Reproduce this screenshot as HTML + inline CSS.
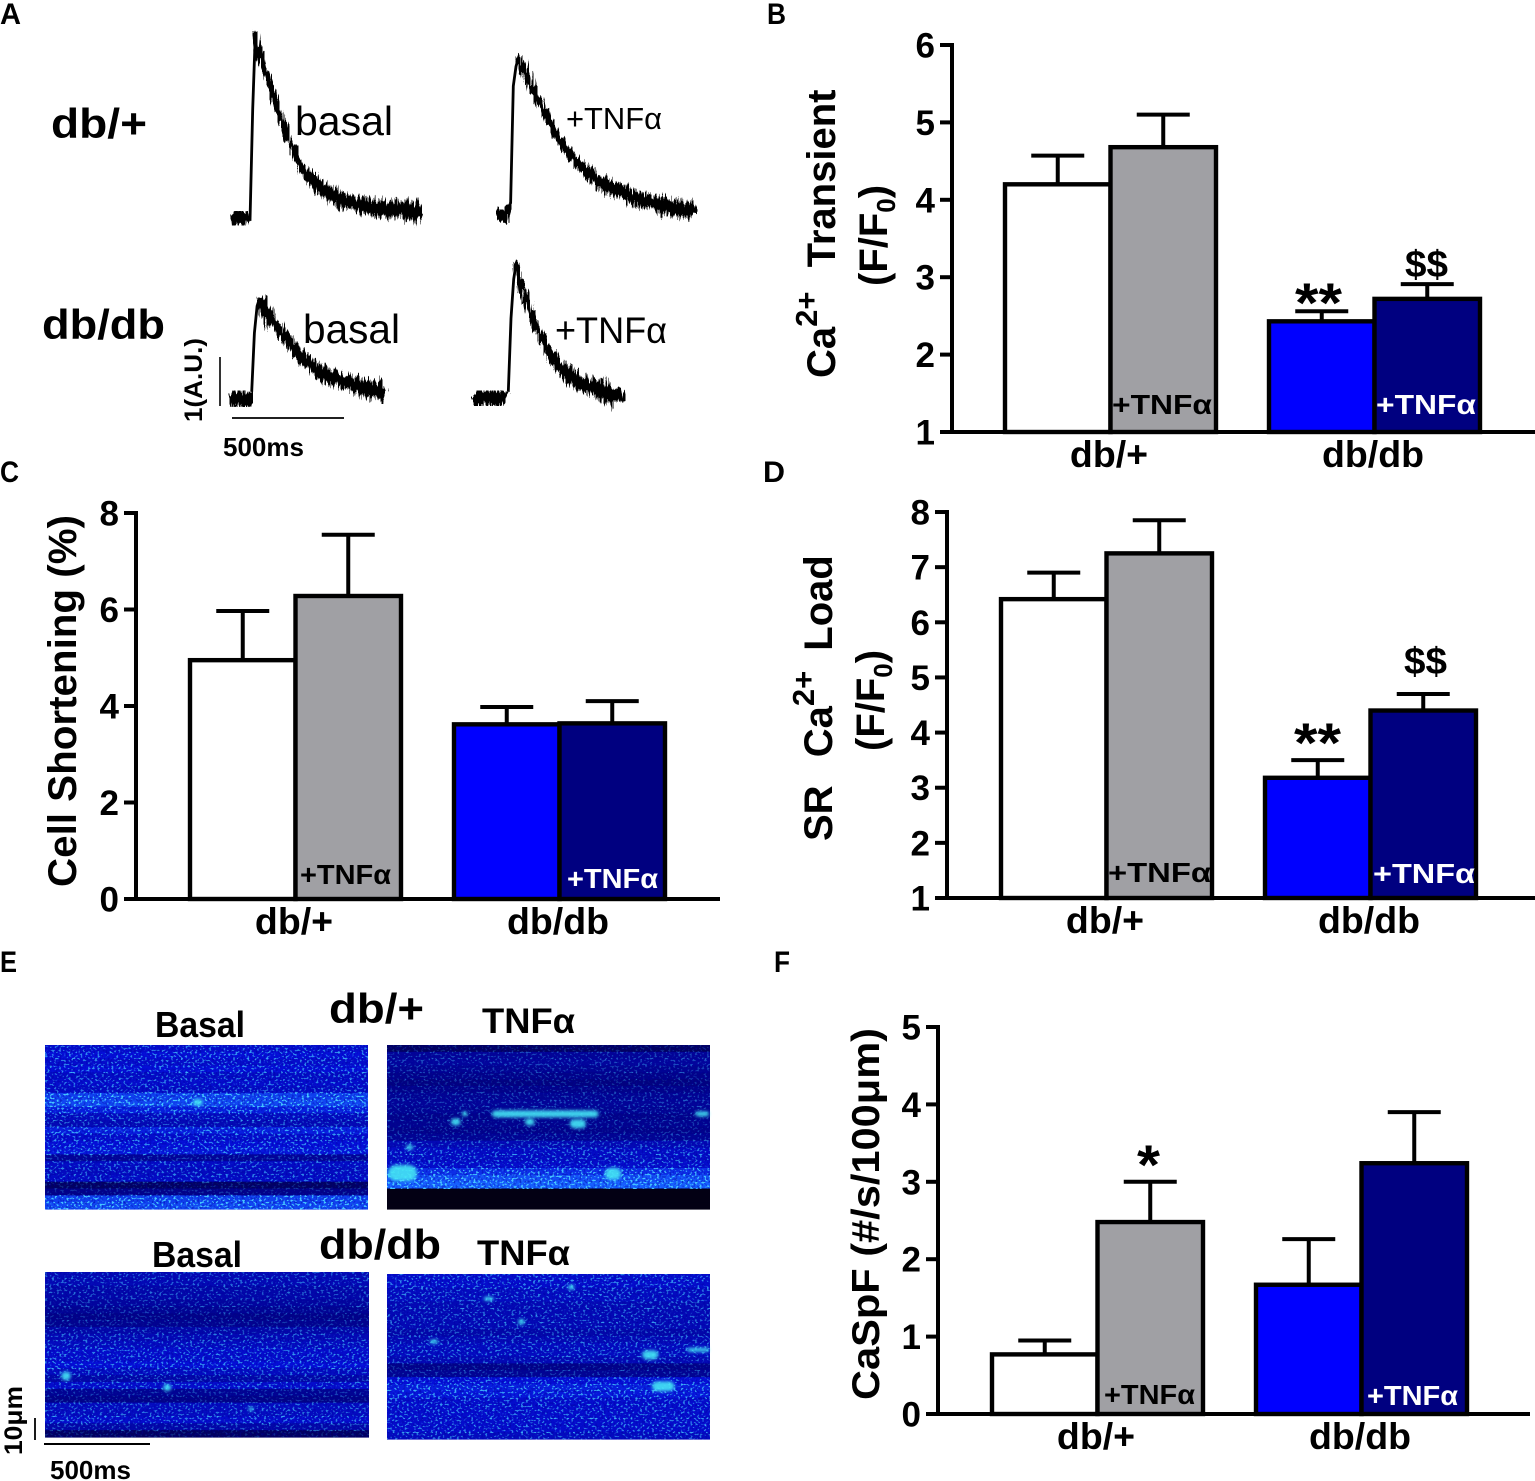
<!DOCTYPE html>
<html lang="en">
<head>
<meta charset="utf-8">
<title>Panels A-F</title>
<style>
html,body{margin:0;padding:0;background:#fff;}
svg{display:block;}
text{font-family:"Liberation Sans",Arial,sans-serif;fill:#000;}
.b{font-weight:700;}
</style>
</head>
<body>
<svg id="fig" xmlns="http://www.w3.org/2000/svg" width="1535" height="1481" viewBox="0 0 1535 1481">
<defs>
<filter id="speckle" x="0" y="0" width="1" height="1" color-interpolation-filters="sRGB">
<feTurbulence type="fractalNoise" baseFrequency="0.42 0.5" numOctaves="1" seed="7"/>
<feColorMatrix type="matrix" values="0 0 0 0 0.27  0 0 0 0 0.78  0 0 0 0 1  8 0 0 0 -4.4"/>
</filter>
<filter id="speckleDark" x="0" y="0" width="1" height="1" color-interpolation-filters="sRGB">
<feTurbulence type="fractalNoise" baseFrequency="0.5 0.42" numOctaves="1" seed="21"/>
<feColorMatrix type="matrix" values="0 0 0 0 0  0 0 0 0 0  0 0 0 0 0.62  0 6 0 0 -3"/>
</filter>
<filter id="soft" x="-60%" y="-120%" width="220%" height="340%"><feGaussianBlur stdDeviation="1.6"/></filter>
<filter id="traceNoise" x="-5%" y="-8%" width="110%" height="116%" color-interpolation-filters="sRGB">
<feTurbulence type="fractalNoise" baseFrequency="0.5 0.03" numOctaves="2" seed="4" result="n"/>
<feDisplacementMap in="SourceGraphic" in2="n" scale="11" xChannelSelector="A" yChannelSelector="R"/>
</filter>
</defs>

<g id="traces"></g>
<g id="scans"></g>
<g id="charts"></g>

<!-- panel letters -->
<text class="b" x="0" y="24" font-size="30" textLength="21" lengthAdjust="spacingAndGlyphs">A</text>
<text class="b" x="767" y="24" font-size="30" textLength="19" lengthAdjust="spacingAndGlyphs">B</text>
<text class="b" x="0" y="482" font-size="30" textLength="19" lengthAdjust="spacingAndGlyphs">C</text>
<text class="b" x="763" y="482" font-size="30" textLength="22" lengthAdjust="spacingAndGlyphs">D</text>
<text class="b" x="0" y="972" font-size="30" textLength="17" lengthAdjust="spacingAndGlyphs">E</text>
<text class="b" x="774" y="972" font-size="30" textLength="16" lengthAdjust="spacingAndGlyphs">F</text>

<!-- panel A text -->
<text class="b" x="51" y="138" font-size="42" textLength="96" lengthAdjust="spacingAndGlyphs">db/+</text>
<text class="b" x="42" y="339" font-size="42" textLength="123" lengthAdjust="spacingAndGlyphs">db/db</text>
<text x="295" y="135" font-size="41" textLength="98" lengthAdjust="spacingAndGlyphs">basal</text>
<text x="566" y="129" font-size="31" textLength="96" lengthAdjust="spacingAndGlyphs">+TNFα</text>
<text x="303" y="343" font-size="41" textLength="97" lengthAdjust="spacingAndGlyphs">basal</text>
<text x="555" y="343" font-size="37" textLength="112" lengthAdjust="spacingAndGlyphs">+TNFα</text>
<text class="b" transform="translate(202,422) rotate(-90)" font-size="25" textLength="84" lengthAdjust="spacingAndGlyphs">1(A.U.)</text>
<line x1="220" y1="357" x2="220" y2="406" stroke="#000" stroke-width="1.6"/>
<line x1="232" y1="418" x2="344" y2="418" stroke="#000" stroke-width="1.8"/>
<text class="b" x="223" y="456" font-size="26" textLength="81" lengthAdjust="spacingAndGlyphs">500ms</text>

<!-- panel E text -->
<text class="b" x="155" y="1037" font-size="36" textLength="90" lengthAdjust="spacingAndGlyphs">Basal</text>
<text class="b" x="329" y="1023" font-size="42" textLength="95" lengthAdjust="spacingAndGlyphs">db/+</text>
<text class="b" x="482" y="1033" font-size="35" textLength="93" lengthAdjust="spacingAndGlyphs">TNFα</text>
<text class="b" x="152" y="1267" font-size="36" textLength="90" lengthAdjust="spacingAndGlyphs">Basal</text>
<text class="b" x="319" y="1259" font-size="42" textLength="122" lengthAdjust="spacingAndGlyphs">db/db</text>
<text class="b" x="477" y="1265" font-size="35" textLength="93" lengthAdjust="spacingAndGlyphs">TNFα</text>
<text class="b" transform="translate(22,1455) rotate(-90)" font-size="25" textLength="69" lengthAdjust="spacingAndGlyphs">10μm</text>
<line x1="35" y1="1418" x2="35" y2="1440" stroke="#000" stroke-width="1.8"/>
<line x1="44" y1="1444" x2="150" y2="1444" stroke="#000" stroke-width="2"/>
<text class="b" x="50" y="1479" font-size="26" textLength="81" lengthAdjust="spacingAndGlyphs">500ms</text>

<!-- y axis titles -->
<text class="b" transform="translate(835,378) rotate(-90)" font-size="40">Ca<tspan font-size="31" dy="-18">2+</tspan><tspan dy="18" dx="13"> Transient</tspan></text>
<text class="b" transform="translate(887,286) rotate(-90)" font-size="40">(F/F<tspan font-size="26" dy="8">0</tspan><tspan dy="-8">)</tspan></text>
<text class="b" transform="translate(76,887) rotate(-90)" font-size="40" textLength="372" lengthAdjust="spacingAndGlyphs">Cell Shortening (%)</text>
<text class="b" transform="translate(832,841) rotate(-90)" font-size="40">SR<tspan dx="17"> Ca</tspan><tspan font-size="31" dy="-18">2+</tspan><tspan dy="18" dx="9"> Load</tspan></text>
<text class="b" transform="translate(884,751) rotate(-90)" font-size="40">(F/F<tspan font-size="26" dy="8">0</tspan><tspan dy="-8">)</tspan></text>
<text class="b" transform="translate(879,1400) rotate(-90)" font-size="39" textLength="372" lengthAdjust="spacingAndGlyphs">CaSpF (#/s/100μm)</text>

<!-- text inside bars -->
<text class="b" x="1112" y="414" font-size="28" textLength="100" lengthAdjust="spacingAndGlyphs">+TNFα</text>
<text class="b" x="1376" y="414" font-size="28" textLength="100" lengthAdjust="spacingAndGlyphs" style="fill:#fff">+TNFα</text>
<text class="b" x="300" y="884" font-size="28" textLength="91" lengthAdjust="spacingAndGlyphs">+TNFα</text>
<text class="b" x="567" y="888" font-size="28" textLength="91" lengthAdjust="spacingAndGlyphs" style="fill:#fff">+TNFα</text>
<text class="b" x="1108" y="882" font-size="28" textLength="103" lengthAdjust="spacingAndGlyphs">+TNFα</text>
<text class="b" x="1373" y="883" font-size="28" textLength="102" lengthAdjust="spacingAndGlyphs" style="fill:#fff">+TNFα</text>
<text class="b" x="1104" y="1404" font-size="28" textLength="91" lengthAdjust="spacingAndGlyphs">+TNFα</text>
<text class="b" x="1367" y="1405" font-size="28" textLength="91" lengthAdjust="spacingAndGlyphs" style="fill:#fff">+TNFα</text>

<!-- significance marks -->
<text class="b" x="1295" y="322" font-size="56" textLength="47" lengthAdjust="spacingAndGlyphs">**</text>
<text class="b" x="1405" y="277" font-size="38" textLength="43" lengthAdjust="spacingAndGlyphs">$$</text>
<text class="b" x="1294" y="762" font-size="56" textLength="47" lengthAdjust="spacingAndGlyphs">**</text>
<text class="b" x="1404" y="674" font-size="38" textLength="43" lengthAdjust="spacingAndGlyphs">$$</text>
<text class="b" x="1137" y="1184" font-size="56" textLength="23" lengthAdjust="spacingAndGlyphs">*</text>
</svg>

<script>
// ---------- Panel A: fluorescence traces (A.U., one sample every 12 ms) ----------
const sampleMs = 12;
const traceDbPlusBasal = [.05,-.1,.08,-.15,.1,-.12,.06,-.08,2.2,3.78,3.3,3.35,3.0,2.95,2.75,2.6,2.4,2.2,2.1,1.9,1.8,1.6,1.47,1.4,1.22,1.15,.95,.98,.8,.88,.72,.8,.58,.68,.5,.6,.42,.54,.36,.48,.3,.42,.28,.38,.24,.34,.2,.32,.18,.3,.16,.28,.14,.26,.12,.24,.1,.24,.08,.22,.06,.22,.08,.2,.04,.22,.06,.2,-.02,.18,0];
const traceDbPlusTnf = [.1,-.15,.08,-.2,.05,.2,2.6,3.0,3.2,2.95,3.0,2.75,2.8,2.5,2.52,2.28,2.3,2.05,2.08,1.85,1.86,1.62,1.64,1.44,1.46,1.28,1.3,1.15,1.18,1.02,1.08,.92,.98,.8,.88,.72,.8,.64,.72,.56,.66,.5,.6,.44,.54,.4,.48,.36,.44,.3,.4,.26,.36,.22,.32,.2,.3,.18,.26,.14,.26,.1,.24,.08,.2,.05,.18,.04,.16,.02,.14,0,.14,.02];
const traceDbDbBasal = [.05,-.12,.1,-.1,.06,-.15,.02,-.18,.1,1.3,1.85,2.02,1.78,1.9,1.55,1.7,1.5,1.5,1.3,1.38,1.18,1.25,1.05,1.12,.92,1.0,.78,.88,.68,.75,.58,.66,.5,.6,.44,.54,.38,.48,.32,.44,.28,.38,.24,.34,.2,.32,.16,.28,.12,.26,.1,.24,.06,.2,.08,.22,.02,.18];
const traceDbDbTnf = [.02,-.1,.08,-.14,.06,-.08,.1,-.16,.04,-.12,.07,-.1,.05,.1,1.6,2.4,2.75,2.15,2.35,2.0,2.05,1.7,1.68,1.4,1.42,1.15,1.2,.95,.98,.75,.82,.6,.68,.48,.58,.38,.5,.3,.42,.24,.34,.18,.3,.14,.26,.1,.24,.04,.2,0,.18,-.04,.16,-.08,.2,-.1];

// ---------- Panels B, C, D, F: bar chart data ----------
const categories = ['db/+', 'db/db'];
const seriesNames = ['basal-db-plus', 'tnf-db-plus', 'basal-db-db', 'tnf-db-db'];

const panelBTicks = ['1', '2', '3', '4', '5', '6'];
const panelBMeans = [4.2, 4.68, 2.43, 2.72];
const panelBUpper = [4.57, 5.1, 2.56, 2.91];

const panelCTicks = ['0', '2', '4', '6', '8'];
const panelCMeans = [4.95, 6.28, 3.62, 3.64];
const panelCUpper = [5.97, 7.55, 3.98, 4.1];

const panelDTicks = ['1', '2', '3', '4', '5', '6', '7', '8'];
const panelDMeans = [6.42, 7.25, 3.18, 4.4];
const panelDUpper = [6.9, 7.85, 3.5, 4.7];

const panelFTicks = ['0', '1', '2', '3', '4', '5'];
const panelFMeans = [0.77, 2.48, 1.67, 3.24];
const panelFUpper = [0.95, 3.0, 2.26, 3.9];

// ---------- Panel E: line-scan row brightness (0-1) and spark read-outs ----------
const scanBasalDbPlusRows = [.45,.5,.45,.5,.42,.45,.42,.8,.85,.6,.4,.35,.6,.45,.5,.55,.22,.42,.4,.42,.1,.15,.8,.85];
const scanTnfDbPlusRows = [.1,.22,.24,.2,.16,.14,.16,.2,.22,.2,.16,.18,.16,.2,.35,.42,.42,.45,.7,.9,1,0,0,0];
const scanBasalDbDbRows = [.35,.35,.3,.3,.25,.2,.15,.18,.3,.35,.4,.45,.45,.5,.4,.3,.45,.2,.15,.4,.4,.45,.3,.1];
const scanTnfDbDbRows = [.45,.45,.4,.4,.35,.35,.35,.35,.3,.35,.4,.4,.35,.15,.2,.5,.6,.55,.45,.45,.45,.45,.45,.4];

const sparksBasalDbPlusX = [.458];
const sparksBasalDbPlusY = [.35];
const sparksBasalDbPlusLen = [.03];
const sparksBasalDbPlusH = [7];
const sparksTnfDbPlusX = [.325,.198,.232,.059,.427,.566,.955,0,.675];
const sparksTnfDbPlusY = [.42,.469,.42,.624,.469,.48,.42,.78,.785];
const sparksTnfDbPlusLen = [.33,.03,.017,.022,.03,.05,.045,.09,.05];
const sparksTnfDbPlusH = [7,7,5,5,7,9,5,16,12];
const sparksBasalDbDbX = [.05,.365,.628];
const sparksBasalDbDbY = [.63,.70,.83];
const sparksBasalDbDbLen = [.03,.025,.015];
const sparksBasalDbDbH = [9,7,4];
const sparksTnfDbDbX = [.30,.406,.133,.79,.93,.82,.56];
const sparksTnfDbDbY = [.15,.29,.41,.49,.46,.68,.08];
const sparksTnfDbDbLen = [.03,.02,.025,.05,.07,.07,.02];
const sparksTnfDbDbH = [4,6,4,9,4,10,5];

const NS = 'http://www.w3.org/2000/svg';
function make(tag, attrs, parent) {
  const node = document.createElementNS(NS, tag);
  for (const k in attrs) node.setAttribute(k, attrs[k]);
  parent.appendChild(node);
  return node;
}

// ----- traces -----
const tracesRoot = document.getElementById('traces');
function drawTrace(values, name, originX, baseY) {
  const pxPerMs = 113 / 500;
  const pxPerUnit = 49;
  const xAt = i => originX + i * sampleMs * pxPerMs;
  const yAt = v => baseY - v * pxPerUnit;
  const pathOf = (a, b) => {
    let d = '';
    for (let i = a; i <= b; i++) d += (i === a ? 'M' : 'L') + xAt(i).toFixed(1) + ' ' + yAt(values[i]).toFixed(1);
    return d;
  };
  let peak = 0;
  values.forEach((v, i) => { if (v > values[peak]) peak = i; });
  let start = peak;
  while (start > 0 && values[start] > .3) start--;

  const base = make('path', {d: pathOf(0, start), fill: 'none', stroke: '#000', 'stroke-width': 5, filter: 'url(#traceNoise)'}, tracesRoot);
  
  
  const rise = make('path', {d: pathOf(start, peak), fill: 'none', stroke: '#000', 'stroke-width': 2.8, 'stroke-linejoin': 'round'}, tracesRoot);
  
  
  const decay = make('path', {d: pathOf(peak, values.length - 1), fill: 'none', stroke: '#000', 'stroke-width': 6, filter: 'url(#traceNoise)'}, tracesRoot);
  
  
}
drawTrace(traceDbPlusBasal, 'trace-db-plus-basal', 231, 217);
drawTrace(traceDbPlusTnf, 'trace-db-plus-tnf', 497, 213.5);
drawTrace(traceDbDbBasal, 'trace-db-db-basal', 230, 396.7);
drawTrace(traceDbDbTnf, 'trace-db-db-tnf', 473, 396.7);

// ----- bar charts -----
const chartsRoot = document.getElementById('charts');
const barFills = ['#ffffff', '#a0a0a4', '#0000ff', '#000080'];

function drawPanel(cfg, ticks, means, upper) {
  const g = make('g', {}, chartsRoot);
  
  
  const yScale = v => cfg.yBase - (v - cfg.yMin) * cfg.pxPerUnit;
  const barLeft = i => cfg.firstBar + i * cfg.barWidth + (i > 1 ? cfg.groupGap : 0);

  means.forEach((m, i) => {
    const cx = barLeft(i) + cfg.barWidth / 2;
    const stem = make('line', {x1: cx, x2: cx, y1: yScale(m), y2: yScale(upper[i]), stroke: '#000', 'stroke-width': 4}, g);
    
    
    const cap = make('line', {x1: cx - 26.5, x2: cx + 26.5, y1: yScale(upper[i]), y2: yScale(upper[i]), stroke: '#000', 'stroke-width': 4}, g);
    
    
  });
  means.forEach((m, i) => {
    const bar = make('rect', {x: barLeft(i), y: yScale(m), width: cfg.barWidth, height: cfg.yBase - yScale(m), fill: barFills[i], stroke: '#000', 'stroke-width': 4.4}, g);
    
    
  });

  const yAxis = make('line', {x1: cfg.axisX, x2: cfg.axisX, y1: yScale(cfg.yMin) + 2, y2: yScale(cfg.yMax) - 2, stroke: '#000', 'stroke-width': 4}, g);
  
  
  const xAxis = make('line', {x1: cfg.axisX - 12, x2: cfg.axisEnd, y1: cfg.yBase, y2: cfg.yBase, stroke: '#000', 'stroke-width': 4}, g);
  
  

  ticks.forEach(label => {
    const v = Number(label);
    const tick = make('line', {x1: cfg.axisX - 12, x2: cfg.axisX, y1: yScale(v), y2: yScale(v), stroke: '#000', 'stroke-width': 4}, g);
    
    
    const t = make('text', {x: cfg.axisX - 17, y: yScale(v) + 12.5, 'text-anchor': 'end', 'font-size': 35, 'font-weight': 700}, g);
    t.textContent = label;
    
    
  });

  categories.forEach((c, i) => {
    const cx = barLeft(i * 2) + cfg.barWidth - 1.5;
    const t = make('text', {x: cx, y: cfg.yBase + 35, 'text-anchor': 'middle', 'font-size': 37.5, 'font-weight': 700}, g);
    t.textContent = c;
    
    
  });
}

drawPanel({name: 'panel-b-ca-transient-chart', yBase: 432, yMin: 1, yMax: 6, pxPerUnit: 77.4, axisX: 952, axisEnd: 1535, firstBar: 1005, barWidth: 105.5, groupGap: 53}, panelBTicks, panelBMeans, panelBUpper);
drawPanel({name: 'panel-c-cell-shortening-chart', yBase: 899, yMin: 0, yMax: 8, pxPerUnit: 48.25, axisX: 136, axisEnd: 720, firstBar: 190, barWidth: 105.5, groupGap: 53}, panelCTicks, panelCMeans, panelCUpper);
drawPanel({name: 'panel-d-sr-load-chart', yBase: 898, yMin: 1, yMax: 8, pxPerUnit: 55.14, axisX: 947, axisEnd: 1535, firstBar: 1001, barWidth: 105.5, groupGap: 53}, panelDTicks, panelDMeans, panelDUpper);
drawPanel({name: 'panel-f-caspf-chart', yBase: 1414, yMin: 0, yMax: 5, pxPerUnit: 77.4, axisX: 938, axisEnd: 1530, firstBar: 992, barWidth: 105.5, groupGap: 53}, panelFTicks, panelFMeans, panelFUpper);

// ----- line scans -----
const scansRoot = document.getElementById('scans');
function levelColor(l) {
  const stops = [[0, 3, 0, 20], [.15, 2, 2, 135], [.5, 5, 14, 215], [1, 22, 95, 255]];
  for (let i = 1; i < stops.length; i++) {
    if (l <= stops[i][0]) {
      const a = stops[i - 1], b = stops[i], f = (l - a[0]) / (b[0] - a[0]);
      return 'rgb(' + [1, 2, 3].map(k => Math.round(a[k] + (b[k] - a[k]) * f)).join(',') + ')';
    }
  }
  return 'rgb(22,95,255)';
}
function drawScan(name, box, rows, sx, sy, slen, sh) {
  const g = make('g', {}, scansRoot);
  
  
  const rowH = box.h / rows.length;
  rows.forEach((l, i) => {
    const r = make('rect', {x: box.x, y: box.y + i * rowH, width: box.w, height: rowH + .6, fill: levelColor(l)}, g);
    
    
  });
  rows.forEach((l, i) => {
    if (l <= 0) return;
    const dark = make('rect', {x: box.x, y: box.y + i * rowH, width: box.w, height: rowH + .4, filter: 'url(#speckleDark)', opacity: .35}, g);
    
    
    const light = make('rect', {x: box.x, y: box.y + i * rowH, width: box.w, height: rowH + .4, filter: 'url(#speckle)', opacity: Math.min(1, .08 + l * 1.2)}, g);
    
    
  });
  sx.forEach((fx, i) => {
    const w = Math.max(slen[i] * box.w, sh[i]);
    const h = sh[i];
    const left = Math.max(box.x + 1, box.x + fx * box.w);
    const right = Math.min(box.x + box.w - 1, left + w);
    const s = make('rect', {x: left, y: box.y + sy[i] * box.h - h / 2, width: right - left, height: h, rx: h / 2, fill: '#45e6f5', opacity: .9, filter: 'url(#soft)'}, g);
    
    
  });
}
drawScan('scan-db-plus-basal', {x: 45, y: 1045, w: 323, h: 164}, scanBasalDbPlusRows, sparksBasalDbPlusX, sparksBasalDbPlusY, sparksBasalDbPlusLen, sparksBasalDbPlusH);
drawScan('scan-db-plus-tnf', {x: 387, y: 1045, w: 323, h: 164}, scanTnfDbPlusRows, sparksTnfDbPlusX, sparksTnfDbPlusY, sparksTnfDbPlusLen, sparksTnfDbPlusH);
drawScan('scan-db-db-basal', {x: 45, y: 1272, w: 324, h: 165}, scanBasalDbDbRows, sparksBasalDbDbX, sparksBasalDbDbY, sparksBasalDbDbLen, sparksBasalDbDbH);
drawScan('scan-db-db-tnf', {x: 387, y: 1274, w: 323, h: 165}, scanTnfDbDbRows, sparksTnfDbDbX, sparksTnfDbDbY, sparksTnfDbDbLen, sparksTnfDbDbH);
</script>
</body>
</html>
